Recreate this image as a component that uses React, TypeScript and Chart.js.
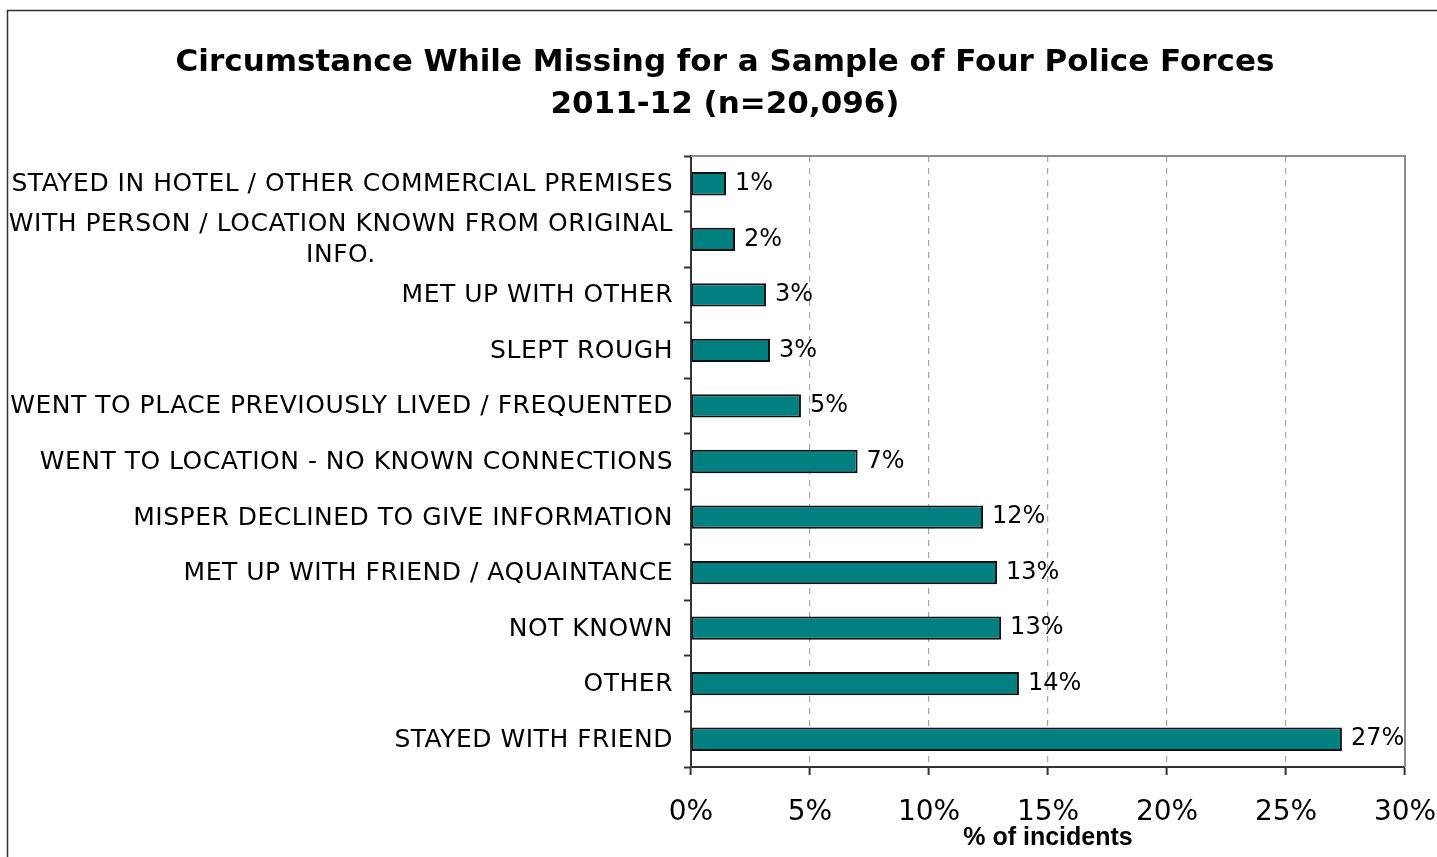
import React, { useEffect, useRef } from 'react';
import { Chart, registerables } from 'chart.js';

Chart.register(...registerables);

const titleLines = ['Circumstance While Missing for a Sample of Four Police Forces', '2011-12 (n=20,096)'];
const categories: string[][] = [
  ['STAYED IN HOTEL / OTHER COMMERCIAL PREMISES'],
  ['WITH PERSON / LOCATION KNOWN FROM ORIGINAL', 'INFO.'],
  ['MET UP WITH OTHER'],
  ['SLEPT ROUGH'],
  ['WENT TO PLACE PREVIOUSLY LIVED / FREQUENTED'],
  ['WENT TO LOCATION - NO KNOWN CONNECTIONS'],
  ['MISPER DECLINED TO GIVE INFORMATION'],
  ['MET UP WITH FRIEND / AQUAINTANCE'],
  ['NOT KNOWN'],
  ['OTHER'],
  ['STAYED WITH FRIEND'],
];
const values = [1.47, 1.85, 3.15, 3.32, 4.62, 7.0, 12.27, 12.86, 13.03, 13.78, 27.35];
const valueLabels = ['1%', '2%', '3%', '3%', '5%', '7%', '12%', '13%', '13%', '14%', '27%'];
const xMin = 0;
const xMax = 30;
const xStep = 5;
const xAxisTitle = '% of incidents';

const FONT = '"DejaVu Sans", Verdana, sans-serif';

const framePlugin = {
  id: 'frame',
  beforeDraw(chart: any) {
    const ctx = chart.ctx;
    ctx.save();
    ctx.fillStyle = '#ffffff';
    ctx.fillRect(0, 0, chart.width, chart.height);
    ctx.strokeStyle = '#333333';
    ctx.lineWidth = 1.5;
    ctx.strokeRect(7.5, 10.5, chart.width + 20, chart.height + 20);
    // title
    ctx.fillStyle = '#000000';
    ctx.font = `bold 31px ${FONT}`;
    ctx.textAlign = 'center';
    ctx.textBaseline = 'middle';
    ctx.fillText(titleLines[0], 725, 63);
    ctx.fillText(titleLines[1], 725, 105);
    ctx.restore();
  },
  afterDatasetsDraw(chart: any) {
    const ctx = chart.ctx;
    const area = chart.chartArea;
    const yScale = chart.scales.y;
    ctx.save();
    // plot top/right border
    ctx.strokeStyle = '#8c8c8c';
    ctx.lineWidth = 2;
    ctx.beginPath();
    ctx.moveTo(area.left, area.top);
    ctx.lineTo(area.right, area.top);
    ctx.lineTo(area.right, area.bottom);
    ctx.stroke();
    // value labels
    ctx.fillStyle = '#000000';
    ctx.font = `24px ${FONT}`;
    ctx.textAlign = 'left';
    ctx.textBaseline = 'middle';
    const meta = chart.getDatasetMeta(0);
    meta.data.forEach((bar: any, i: number) => {
      ctx.fillText(valueLabels[i], bar.x + 9, bar.y);
    });
    // category labels
    ctx.font = `25px ${FONT}`;
    (ctx as any).letterSpacing = '0.5px';
    ctx.textAlign = 'center';
    const rightEdge = yScale.right - 18;
    const lineGap = 31;
    categories.forEach((lines, i) => {
      const yc = yScale.getPixelForValue(i) + 1;
      const maxW = Math.max(...lines.map((l) => ctx.measureText(l).width));
      const cx = rightEdge - maxW / 2;
      const y0 = yc - ((lines.length - 1) * lineGap) / 2;
      lines.forEach((l, j) => ctx.fillText(l, cx, y0 + j * lineGap));
    });
    (ctx as any).letterSpacing = '0px';
    ctx.restore();
  },
};

export default function App() {
  const ref = useRef<HTMLCanvasElement>(null);
  useEffect(() => {
    if (!ref.current) return;
    const chart = new Chart(ref.current, {
      type: 'bar',
      data: {
        labels: categories,
        datasets: [
          {
            data: values,
            backgroundColor: '#008080',
            borderColor: '#111111',
            borderWidth: 2,
            borderSkipped: false,
            categoryPercentage: 1,
            barPercentage: 0.42,
          },
        ],
      },
      options: {
        indexAxis: 'y',
        animation: false,
        responsive: false,
        devicePixelRatio: 1,
        layout: { padding: { left: 0, top: 156, right: 32, bottom: 0 } },
        plugins: { legend: { display: false }, tooltip: { enabled: false }, title: { display: false } },
        scales: {
          x: {
            type: 'linear',
            min: xMin,
            max: xMax,
            ticks: {
              stepSize: xStep,
              color: '#000',
              font: { family: FONT, size: 28 },
              padding: 21,
              callback: (v: any) => `${v}%`,
            },
            grid: {
              color: (c: any) => (c.tick && (c.tick.value === xMin || c.tick.value === xMax) ? 'rgba(0,0,0,0)' : '#a6a6a6'),
              lineWidth: 1.2,
              tickColor: '#333333',
              tickLength: 8,
              tickWidth: 2,
              tickBorderDash: [],
            },
            border: { color: '#333333', width: 2, dash: [6, 6] },
            title: {
              display: true,
              text: xAxisTitle,
              color: '#000',
              font: { family: '"Liberation Sans", Arial, sans-serif', size: 25, weight: 'bold' },
              padding: { top: 0, bottom: 4 },
            },
            afterFit: (s: any) => {
              s.height = 90;
              s.paddingRight = 0;
              s.paddingLeft = 0;
            },
          },
          y: {
            type: 'category',
            ticks: { display: false },
            grid: {
              offset: true,
              drawOnChartArea: false,
              tickColor: '#333333',
              tickLength: 7,
              tickWidth: 2,
            },
            border: { color: '#333333', width: 2 },
            afterFit: (s: any) => {
              s.width = 691;
              s.paddingTop = 0;
              s.paddingBottom = 0;
            },
          },
        },
      },
      plugins: [framePlugin],
    });
    return () => chart.destroy();
  }, []);
  return (
    <div style={{ position: 'absolute', left: 0, top: 0, width: 1437, height: 857 }}>
      <canvas ref={ref} width={1437} height={857} />
    </div>
  );
}
